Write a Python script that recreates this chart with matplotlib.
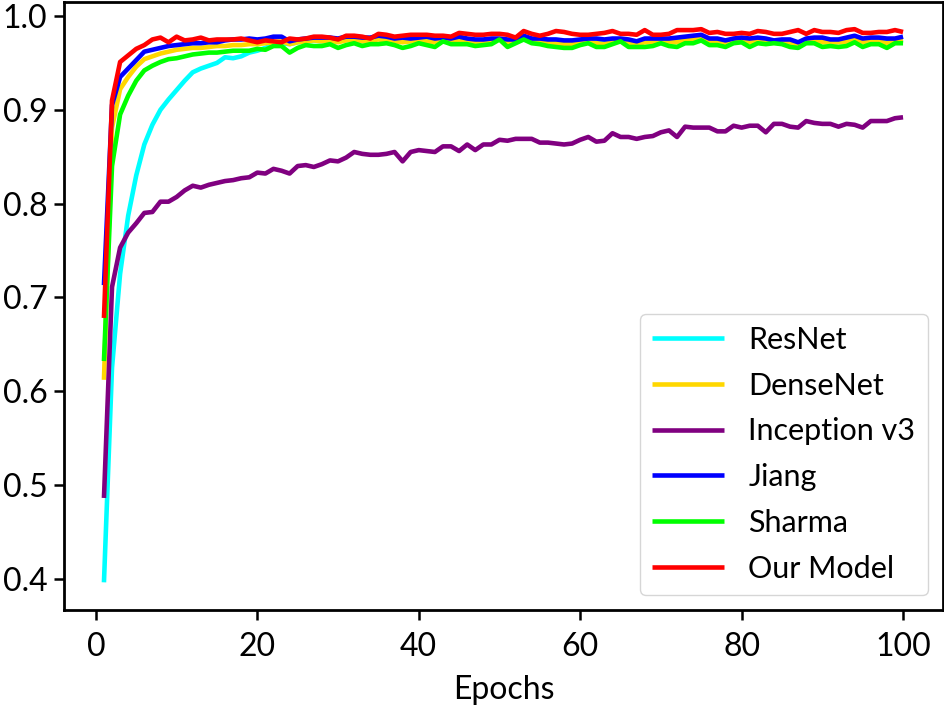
import matplotlib
matplotlib.use("Agg")
import matplotlib.pyplot as plt
import numpy as np

plt.rcParams['font.family'] = ['Lato', 'DejaVu Sans']

epochs = np.arange(1, 101)

resnet = [0.396, 0.625, 0.725, 0.787, 0.830, 0.863, 0.884, 0.900, 0.911, 0.921,
          0.931, 0.940, 0.944, 0.947, 0.950, 0.956, 0.955, 0.957, 0.961, 0.963,
          0.966, 0.970, 0.971, 0.970, 0.972, 0.973, 0.974, 0.973, 0.974, 0.973,
          0.975, 0.975, 0.973, 0.974, 0.976, 0.975, 0.974, 0.973, 0.973, 0.974,
          0.973, 0.973, 0.974, 0.973, 0.975, 0.973, 0.972, 0.973, 0.974, 0.975,
          0.972, 0.973, 0.976, 0.974, 0.973, 0.972, 0.972, 0.971, 0.971, 0.972,
          0.973, 0.972, 0.971, 0.973, 0.974, 0.972, 0.971, 0.973, 0.973, 0.974,
          0.973, 0.973, 0.975, 0.975, 0.976, 0.973, 0.973, 0.972, 0.974, 0.974,
          0.973, 0.974, 0.973, 0.973, 0.973, 0.972, 0.971, 0.974, 0.974, 0.973,
          0.973, 0.973, 0.973, 0.975, 0.973, 0.974, 0.974, 0.972, 0.974, 0.975]

densenet = [0.612, 0.881, 0.922, 0.935, 0.946, 0.954, 0.957, 0.960, 0.962, 0.964,
            0.965, 0.966, 0.966, 0.967, 0.968, 0.968, 0.969, 0.969, 0.970, 0.970,
            0.971, 0.972, 0.973, 0.970, 0.972, 0.973, 0.974, 0.973, 0.974, 0.972,
            0.974, 0.975, 0.973, 0.974, 0.975, 0.974, 0.973, 0.972, 0.973, 0.974,
            0.973, 0.972, 0.974, 0.973, 0.974, 0.972, 0.972, 0.972, 0.973, 0.975,
            0.971, 0.973, 0.976, 0.973, 0.972, 0.971, 0.971, 0.970, 0.970, 0.972,
            0.972, 0.971, 0.970, 0.973, 0.974, 0.971, 0.970, 0.972, 0.972, 0.973,
            0.972, 0.972, 0.974, 0.975, 0.976, 0.973, 0.972, 0.971, 0.973, 0.974,
            0.972, 0.973, 0.972, 0.973, 0.972, 0.971, 0.970, 0.973, 0.973, 0.972,
            0.972, 0.972, 0.972, 0.975, 0.972, 0.973, 0.973, 0.971, 0.973, 0.974]

inception = [0.486, 0.711, 0.753, 0.769, 0.779, 0.790, 0.791, 0.802, 0.802, 0.807,
             0.814, 0.819, 0.817, 0.820, 0.822, 0.824, 0.825, 0.827, 0.828, 0.833,
             0.832, 0.837, 0.835, 0.832, 0.840, 0.841, 0.839, 0.842, 0.846, 0.845,
             0.849, 0.855, 0.853, 0.852, 0.852, 0.853, 0.855, 0.845, 0.855, 0.857,
             0.856, 0.855, 0.861, 0.861, 0.856, 0.863, 0.857, 0.863, 0.863, 0.868,
             0.867, 0.869, 0.869, 0.869, 0.865, 0.865, 0.864, 0.863, 0.864, 0.868,
             0.871, 0.866, 0.867, 0.875, 0.871, 0.871, 0.869, 0.871, 0.872, 0.876,
             0.878, 0.871, 0.882, 0.881, 0.881, 0.881, 0.877, 0.877, 0.883, 0.881,
             0.883, 0.883, 0.876, 0.885, 0.885, 0.882, 0.881, 0.888, 0.886, 0.885,
             0.885, 0.882, 0.885, 0.884, 0.881, 0.888, 0.888, 0.888, 0.891, 0.892]

jiang = [0.713, 0.905, 0.935, 0.944, 0.953, 0.962, 0.964, 0.966, 0.968, 0.969,
         0.970, 0.971, 0.971, 0.972, 0.972, 0.974, 0.975, 0.975, 0.976, 0.975,
         0.976, 0.978, 0.978, 0.973, 0.975, 0.976, 0.977, 0.977, 0.977, 0.976,
         0.978, 0.978, 0.977, 0.977, 0.979, 0.978, 0.976, 0.977, 0.976, 0.977,
         0.978, 0.976, 0.977, 0.976, 0.978, 0.976, 0.975, 0.975, 0.976, 0.976,
         0.975, 0.975, 0.979, 0.976, 0.976, 0.975, 0.975, 0.974, 0.974, 0.975,
         0.976, 0.976, 0.975, 0.976, 0.976, 0.975, 0.973, 0.976, 0.976, 0.976,
         0.976, 0.977, 0.978, 0.979, 0.980, 0.976, 0.976, 0.974, 0.976, 0.977,
         0.976, 0.977, 0.976, 0.974, 0.975, 0.975, 0.972, 0.976, 0.977, 0.977,
         0.975, 0.975, 0.977, 0.979, 0.976, 0.977, 0.977, 0.976, 0.976, 0.978]

sharma = [0.632, 0.840, 0.895, 0.915, 0.931, 0.942, 0.947, 0.951, 0.954, 0.955,
          0.957, 0.959, 0.960, 0.961, 0.961, 0.962, 0.963, 0.963, 0.963, 0.965,
          0.964, 0.968, 0.968, 0.961, 0.966, 0.969, 0.968, 0.968, 0.970, 0.966,
          0.969, 0.971, 0.968, 0.970, 0.970, 0.971, 0.969, 0.966, 0.968, 0.971,
          0.969, 0.967, 0.973, 0.970, 0.970, 0.970, 0.968, 0.969, 0.970, 0.975,
          0.967, 0.971, 0.975, 0.971, 0.970, 0.968, 0.967, 0.966, 0.966, 0.969,
          0.971, 0.967, 0.967, 0.970, 0.973, 0.967, 0.967, 0.967, 0.968, 0.971,
          0.968, 0.967, 0.971, 0.971, 0.974, 0.969, 0.969, 0.967, 0.971, 0.972,
          0.967, 0.971, 0.970, 0.971, 0.970, 0.967, 0.966, 0.971, 0.971, 0.967,
          0.968, 0.967, 0.968, 0.972, 0.967, 0.970, 0.970, 0.966, 0.971, 0.971]

our_model = [0.678, 0.910, 0.951, 0.958, 0.965, 0.969, 0.975, 0.977, 0.972, 0.978,
             0.974, 0.975, 0.977, 0.974, 0.975, 0.975, 0.975, 0.976, 0.974, 0.972,
             0.974, 0.973, 0.972, 0.976, 0.975, 0.976, 0.978, 0.978, 0.977, 0.975,
             0.979, 0.979, 0.978, 0.976, 0.981, 0.980, 0.978, 0.979, 0.980, 0.980,
             0.980, 0.979, 0.979, 0.978, 0.982, 0.981, 0.980, 0.980, 0.981, 0.981,
             0.980, 0.977, 0.984, 0.981, 0.979, 0.981, 0.984, 0.983, 0.981, 0.980,
             0.980, 0.981, 0.982, 0.984, 0.981, 0.981, 0.980, 0.985, 0.980, 0.980,
             0.981, 0.985, 0.985, 0.985, 0.986, 0.982, 0.983, 0.981, 0.981, 0.982,
             0.981, 0.984, 0.983, 0.981, 0.981, 0.983, 0.985, 0.981, 0.985, 0.983,
             0.983, 0.982, 0.985, 0.986, 0.982, 0.982, 0.983, 0.983, 0.985, 0.983]

labels = ['ResNet', 'DenseNet', 'Inception v3', 'Jiang', 'Sharma', 'Our Model']
colors = ['#00FFFF', '#FFD700', '#800080', '#0000FF', '#00FF00', '#FF0000']
series = [resnet, densenet, inception, jiang, sharma, our_model]

fig = plt.figure(figsize=(9.44, 7.05), dpi=100)
ax = fig.add_axes([64 / 944, (705 - 610) / 705, (943 - 64) / 944, (610 - 1.5) / 705])

for vals, lab, col in zip(series, labels, colors):
    ax.plot(epochs, vals, color=col, lw=3.3, label=lab, solid_capstyle='butt')

ax.set_xticks([0, 20, 40, 60, 80, 100])
ax.set_yticks([0.4, 0.5, 0.6, 0.7, 0.8, 0.9, 1.0])
ax.tick_params(labelsize=23, length=7, width=1.8)
ax.tick_params(axis='y', pad=5)
ax.tick_params(axis='x', pad=9)
for sp in ax.spines.values():
    sp.set_linewidth(2)
ax.set_xlabel('Epochs', fontsize=23, labelpad=9)

ax.legend(loc='lower right', fontsize=22, handlelength=2.35, handletextpad=0.8,
          labelspacing=0.58, borderpad=0.4)

fig.savefig('out.png', dpi=100)
